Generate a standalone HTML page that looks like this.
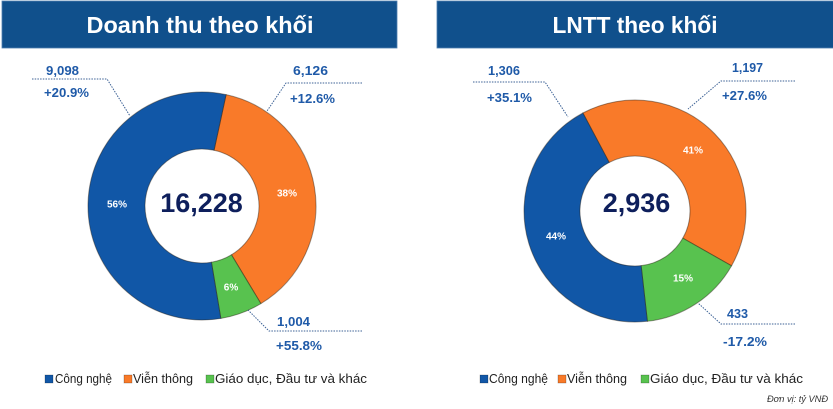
<!DOCTYPE html>
<html>
<head>
<meta charset="utf-8">
<style>
html,body{margin:0;padding:0;background:#fff;}
body{width:833px;height:409px;overflow:hidden;}
svg{display:block;}
text{font-family:"Liberation Sans",Arial,sans-serif;}
</style>
</head>
<body>
<svg width="833" height="409" viewBox="0 0 833 409" xmlns="http://www.w3.org/2000/svg">
  <!-- Headers -->
  <rect x="2" y="1" width="395" height="47" fill="#10508c" stroke="#4f7fb0" stroke-width="0.8"/>
  <text x="200" y="33" font-size="23" font-weight="bold" fill="#fff" text-anchor="middle" textLength="227" lengthAdjust="spacingAndGlyphs">Doanh thu theo khối</text>
  <rect x="437" y="1" width="397" height="47" fill="#10508c" stroke="#4f7fb0" stroke-width="0.8"/>
  <text x="635" y="33" font-size="23" font-weight="bold" fill="#fff" text-anchor="middle" textLength="165" lengthAdjust="spacingAndGlyphs">LNTT theo khối</text>

  <!-- Left donut -->
  <g stroke="rgba(40,30,20,0.45)" stroke-width="1">
    <path d="M226.09,94.58 A114,114 0 0 1 260.88,303.62 L231.44,254.81 A57,57 0 0 0 214.04,150.29 Z" fill="#f97a29"/>
    <path d="M260.88,303.62 A114,114 0 0 1 220.81,318.44 L211.41,262.22 A57,57 0 0 0 231.44,254.81 Z" fill="#58c24f"/>
    <path d="M220.81,318.44 A114,114 0 1 1 226.09,94.58 L214.04,150.29 A57,57 0 1 0 211.41,262.22 Z" fill="#1157a7"/>
  </g>
  <text x="201.5" y="212" font-size="27" font-weight="bold" fill="#0e1f5c" text-anchor="middle">16,228</text>
  <g font-size="10" font-weight="bold" fill="#fff" text-anchor="middle">
    <text x="117" y="207.5">56%</text>
    <text x="287" y="196.5">38%</text>
    <text x="231" y="290.5">6%</text>
  </g>

  <!-- Right donut -->
  <g stroke="rgba(40,30,20,0.45)" stroke-width="1">
    <path d="M582.89,113.00 A111,111 0 0 1 731.51,265.82 L682.82,238.16 A55,55 0 0 0 609.18,162.44 Z" fill="#f97a29"/>
    <path d="M731.51,265.82 A111,111 0 0 1 647.38,321.31 L641.13,265.66 A55,55 0 0 0 682.82,238.16 Z" fill="#58c24f"/>
    <path d="M647.38,321.31 A111,111 0 0 1 582.89,113.00 L609.18,162.44 A55,55 0 0 0 641.13,265.66 Z" fill="#1157a7"/>
  </g>
  <text x="636.5" y="212" font-size="27" font-weight="bold" fill="#0e1f5c" text-anchor="middle">2,936</text>
  <g font-size="10" font-weight="bold" fill="#fff" text-anchor="middle">
    <text x="693" y="153.5">41%</text>
    <text x="556" y="239.5">44%</text>
    <text x="683" y="281.5">15%</text>
  </g>

  <!-- Leader lines -->
  <g fill="none" stroke="#3d6296" stroke-width="1" stroke-dasharray="1.5,1.2">
    <path d="M32,79 H107 L130,116"/>
    <path d="M362,83 H286 L267,111"/>
    <path d="M362,331 H269 L248,310"/>
    <path d="M473,82 H545 L568,117"/>
    <path d="M795,81 H721 L688,109"/>
    <path d="M795,324 H721 L698,303"/>
  </g>

  <!-- Callout labels -->
  <g font-size="13" font-weight="bold" fill="#1f5aa8">
    <text x="46" y="75" textLength="33" lengthAdjust="spacingAndGlyphs">9,098</text>
    <text x="44" y="97" textLength="45" lengthAdjust="spacingAndGlyphs">+20.9%</text>
    <text x="293" y="75" textLength="35" lengthAdjust="spacingAndGlyphs">6,126</text>
    <text x="290" y="103" textLength="45" lengthAdjust="spacingAndGlyphs">+12.6%</text>
    <text x="277" y="326" textLength="33" lengthAdjust="spacingAndGlyphs">1,004</text>
    <text x="276" y="350" textLength="46" lengthAdjust="spacingAndGlyphs">+55.8%</text>

    <text x="488" y="75" textLength="32" lengthAdjust="spacingAndGlyphs">1,306</text>
    <text x="487" y="102" textLength="45" lengthAdjust="spacingAndGlyphs">+35.1%</text>
    <text x="732" y="72" textLength="31" lengthAdjust="spacingAndGlyphs">1,197</text>
    <text x="722" y="100" textLength="45" lengthAdjust="spacingAndGlyphs">+27.6%</text>
    <text x="727" y="318" textLength="21" lengthAdjust="spacingAndGlyphs">433</text>
    <text x="723" y="346" textLength="44" lengthAdjust="spacingAndGlyphs">-17.2%</text>
  </g>

  <!-- Legends -->
  <g stroke="rgba(0,0,0,0.35)" stroke-width="0.6">
    <rect x="45" y="375" width="8" height="8" fill="#1157a7"/>
    <rect x="124" y="375" width="8" height="8" fill="#f97a29"/>
    <rect x="206" y="375" width="8" height="8" fill="#58c24f"/>
    <rect x="480" y="375" width="8" height="8" fill="#1157a7"/>
    <rect x="558" y="375" width="8" height="8" fill="#f97a29"/>
    <rect x="641" y="375" width="8" height="8" fill="#58c24f"/>
  </g>
  <g font-size="12.5" fill="#222">
    <text x="55" y="383" textLength="57" lengthAdjust="spacingAndGlyphs">Công nghệ</text>
    <text x="133" y="383" textLength="60" lengthAdjust="spacingAndGlyphs">Viễn thông</text>
    <text x="215" y="383" textLength="152" lengthAdjust="spacingAndGlyphs">Giáo dục, Đầu tư và khác</text>
    <text x="489" y="383" textLength="59" lengthAdjust="spacingAndGlyphs">Công nghệ</text>
    <text x="567" y="383" textLength="60" lengthAdjust="spacingAndGlyphs">Viễn thông</text>
    <text x="650" y="383" textLength="153" lengthAdjust="spacingAndGlyphs">Giáo dục, Đầu tư và khác</text>
  </g>
  <text x="767" y="402" font-size="9" font-style="italic" fill="#333" textLength="61" lengthAdjust="spacingAndGlyphs">Đơn vị: tỷ VNĐ</text>
</svg>
</body>
</html>
